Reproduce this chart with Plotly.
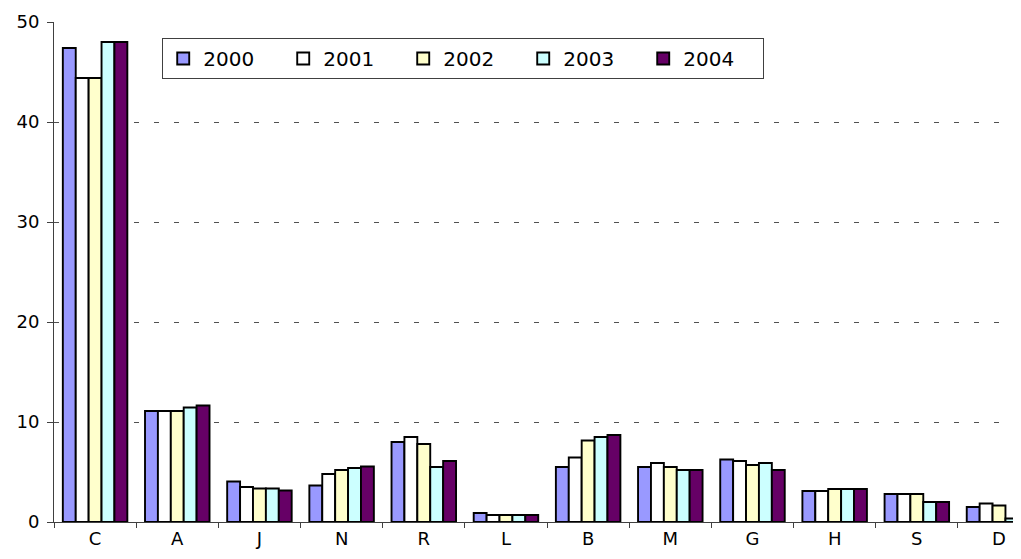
import plotly.graph_objects as go

categories = ["C", "A", "J", "N", "R", "L", "B", "M", "G", "H", "S", "D"]
years = ["2000", "2001", "2002", "2003", "2004"]
v2000 = [47.4, 11.1, 4.05, 3.65, 8.0, 0.9, 5.5, 5.5, 6.25, 3.1, 2.8, 1.5]
v2001 = [44.4, 11.1, 3.5, 4.8, 8.5, 0.7, 6.45, 5.9, 6.1, 3.1, 2.8, 1.85]
v2002 = [44.4, 11.1, 3.35, 5.2, 7.8, 0.7, 8.15, 5.5, 5.7, 3.3, 2.8, 1.65]
v2003 = [48.0, 11.45, 3.35, 5.4, 5.5, 0.7, 8.5, 5.2, 5.9, 3.3, 2.0, 0.35]
v2004 = [48.0, 11.65, 3.15, 5.55, 6.1, 0.7, 8.7, 5.2, 5.2, 3.3, 2.0, 0.35]
series = [v2000, v2001, v2002, v2003, v2004]
colors = ["#9999FF", "#FFFFFF", "#FFFFCC", "#CCFFFF", "#660066"]

fig = go.Figure()
for name, vals, col in zip(years, series, colors):
    fig.add_trace(go.Bar(
        x=categories, y=vals, name=name,
        marker=dict(color=col, line=dict(color="black", width=1.9)),
    ))

fig.update_layout(
    width=1021, height=559,
    margin=dict(l=46, r=0, t=14, b=45),
    paper_bgcolor="white", plot_bgcolor="white",
    barmode="group", bargap=0.215, bargroupgap=0,
    font=dict(family="DejaVu Sans, Verdana, sans-serif", size=18, color="black"),
    showlegend=True,
    legend=dict(
        orientation="h", x=0.111, y=0.968, xanchor="left", yanchor="top",
        bordercolor="#404040", borderwidth=1, bgcolor="white",
        entrywidth=75, entrywidthmode="pixels",
        font=dict(size=20), traceorder="normal",
    ),
)
fig.update_xaxes(
    type="category", range=[-0.5, 11.365],
    showline=True, linecolor="#404040", linewidth=1,
    ticks="outside", ticklen=5, tickcolor="#404040", tickson="boundaries",
    showgrid=False,
)
fig.update_yaxes(
    range=[0, 50], tickvals=[0, 10, 20, 30, 40, 50],
    showline=True, linecolor="#404040", linewidth=1,
    ticks="outside", ticklen=6, tickcolor="#404040", ticklabelstandoff=4,
    showgrid=True, gridcolor="#505050", gridwidth=1, griddash="5px,15px",
    zeroline=False,
)

fig.write_html("out.html")
